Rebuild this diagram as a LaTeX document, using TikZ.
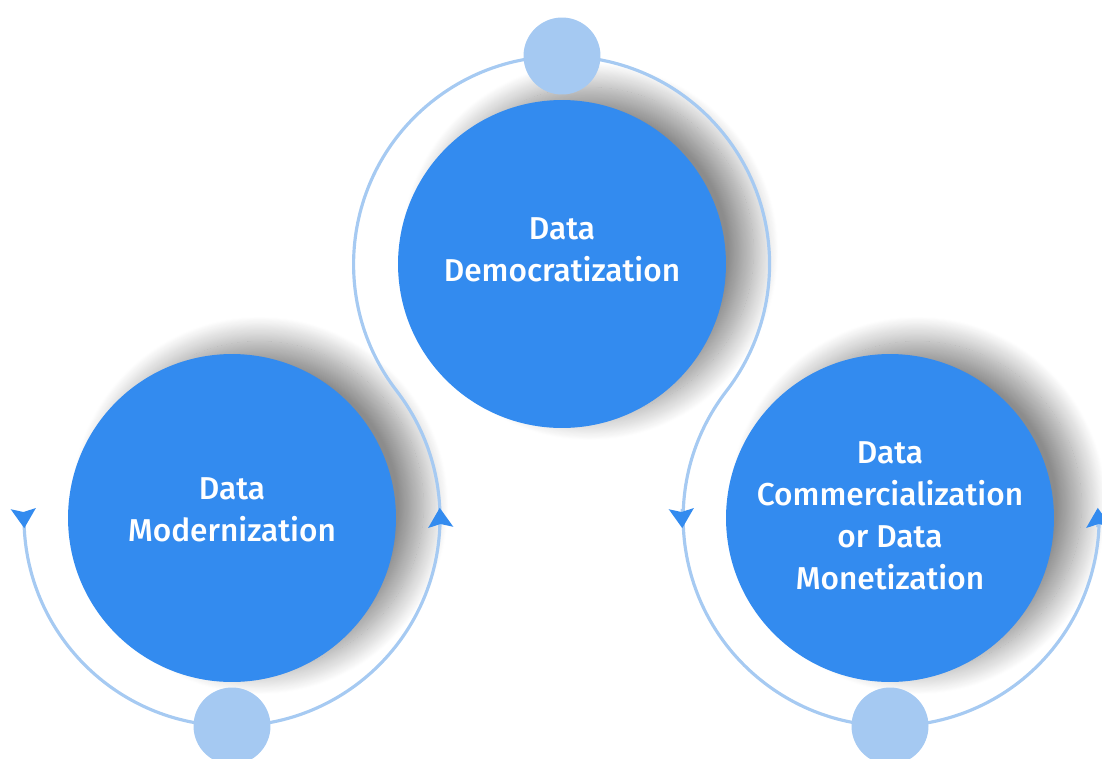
\documentclass[tikz,border=0pt]{standalone}
\usepackage{fontspec}
\setmainfont{Fira Sans Medium}
\usetikzlibrary{arrows.meta,shadows.blur}
\definecolor{discblue}{HTML}{338BEF}
\definecolor{dotblue}{HTML}{A5C9F2}
\definecolor{ringblue}{HTML}{A6CAF2}
\begin{document}
\begin{tikzpicture}[x=0.02cm,y=-0.02cm]

    \tikzset{
      bigdisc/.style={
        circle,
        fill=discblue,
        inner sep=0pt,
        minimum size=6.56cm,
        blur shadow={shadow xshift=0.55cm, shadow yshift=0.25cm,
          shadow blur radius=0.5cm, shadow blur steps=30, shadow opacity=45},
      },
      smalldot/.style={circle, fill=dotblue, inner sep=0pt, minimum size=1.54cm},
      caption/.style={text=white, align=center, font=\fontsize{18}{23.8}\selectfont},
      ring/.style={draw=ringblue, line width=1.8pt},
      ringtip/.style={ringblue, line width=1.8pt,
        -{Stealth[length=11pt, width=14pt, inset=1.8pt, color=discblue]}},
    }
    \useasboundingbox (0,0) rectangle (1102,758);
    \clip (0,0) rectangle (1102,758);

    % discs
    \node[bigdisc] (democ) at (562,264) {};
    \node[bigdisc] (modern) at (232,518) {};
    \node[bigdisc] (monet) at (890,518) {};
    \node[caption] (democ-text) at (562,250) {Data\\Democratization};
    \node[caption] (modern-text) at (232,510) {Data\\Modernization};
    \node[caption] (monet-text) at (890,516) {Data\\Commercialization\\or Data\\Monetization};

    % ring
    \draw[ring] (modern.center) ++(181.6:208) arc[start angle=181.6, end angle=-37.6, radius=208]
      arc[start angle=142.4, end angle=397.6, radius=208]
      arc[start angle=217.6, end angle=-1, radius=208];
    \draw[ringtip] (modern.center) ++(181.6:208) arc[start angle=181.6, end angle=177.2, radius=208];
    \draw[ringtip] (modern.center) ++(2.5:208) arc[start angle=2.5, end angle=-2.8, radius=208];
    \draw[ringtip] (monet.center) ++(182.5:208) arc[start angle=182.5, end angle=177.2, radius=208];
    \draw[ringtip] (monet.center) ++(2.5:208) arc[start angle=2.5, end angle=-2.8, radius=208];

    % dots
    \node[smalldot] (top-dot) at (562,56) {};
    \node[smalldot] (left-dot) at (232,726) {};
    \node[smalldot] (right-dot) at (890,726) {};

\end{tikzpicture}
\end{document}
